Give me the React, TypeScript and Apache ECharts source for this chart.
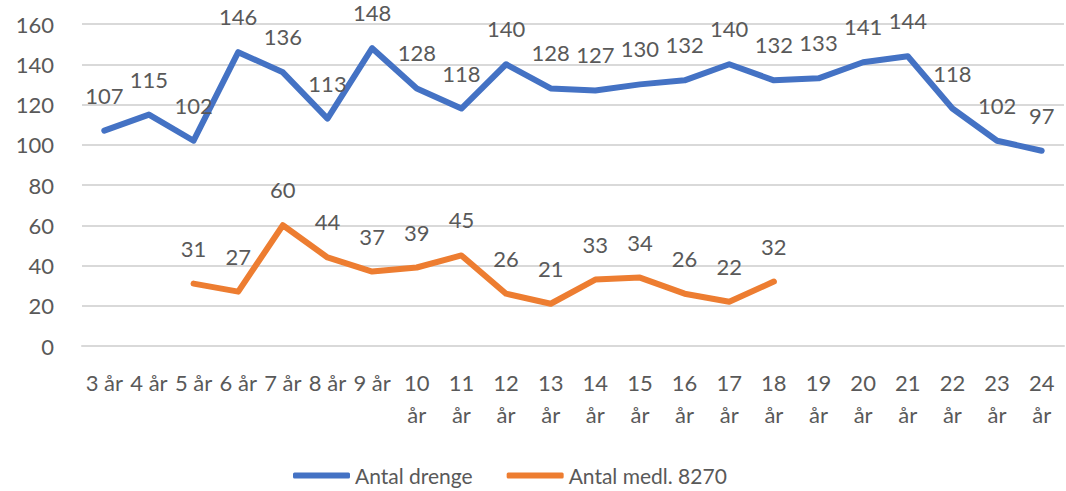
import React, { useEffect, useRef } from "react";
import * as echarts from "echarts";

const categories = [
  "3 år", "4 år", "5 år", "6 år", "7 år", "8 år", "9 år", "10 år", "11 år", "12 år", "13 år",
  "14 år", "15 år", "16 år", "17 år", "18 år", "19 år", "20 år", "21 år", "22 år", "23 år", "24 år",
];
const antalDrenge = [107, 115, 102, 146, 136, 113, 148, 128, 118, 140, 128, 127, 130, 132, 140, 132, 133, 141, 144, 118, 102, 97];
const antalMedl = [null, null, 31, 27, 60, 44, 37, 39, 45, 26, 21, 33, 34, 26, 22, 32, null, null, null, null, null, null];
const seriesNames = ["Antal drenge", "Antal medl. 8270"];

const FONT = "Lato";
const TEXT = "#595959";

export default function App() {
  const ref = useRef<HTMLDivElement>(null);
  useEffect(() => {
    if (!ref.current) return;
    const chart = echarts.init(ref.current, undefined, { renderer: "svg" });
    const label = {
      show: true,
      position: "top",
      distance: 24,
      color: TEXT,
      fontFamily: FONT,
      fontSize: 22,
    };
    chart.setOption({
      animation: false,
      textStyle: { fontFamily: FONT },
      grid: { left: 82, right: 2, top: 24, bottom: 145 },
      legend: {
        bottom: 0,
        left: 288,
        itemWidth: 57,
        itemHeight: 6,
        itemGap: 34,
        icon: "roundRect",
        textStyle: { color: TEXT, fontFamily: FONT, fontSize: 21 },
        data: seriesNames,
      },
      xAxis: {
        type: "category",
        data: categories,
        boundaryGap: true,
        axisLine: { show: true, lineStyle: { color: "#d9d9d9", width: 2 } },
        axisTick: { show: false },
        axisLabel: {
          interval: 0,
          color: TEXT,
          fontFamily: FONT,
          fontSize: 22,
          lineHeight: 32,
          margin: 20,
          formatter: (v: string) => (parseInt(v, 10) >= 10 ? v.replace(" ", "\n") : v),
        },
      },
      yAxis: {
        type: "value",
        min: 0,
        max: 160,
        interval: 20,
        axisLine: { show: false },
        axisTick: { show: false },
        splitLine: { lineStyle: { color: "#d9d9d9", width: 2 } },
        axisLabel: { color: TEXT, fontFamily: FONT, fontSize: 22, margin: 28 },
      },
      series: [
        {
          name: seriesNames[0],
          type: "line",
          data: antalDrenge,
          symbol: "circle",
          symbolSize: 1,
          showSymbol: true,
          lineStyle: { color: "#4472C4", width: 6, cap: "round", join: "round" },
          itemStyle: { color: "#4472C4" },
          label,
        },
        {
          name: seriesNames[1],
          type: "line",
          data: antalMedl,
          symbol: "circle",
          symbolSize: 1,
          showSymbol: true,
          connectNulls: false,
          lineStyle: { color: "#ED7D31", width: 6, cap: "round", join: "round" },
          itemStyle: { color: "#ED7D31" },
          label,
        },
      ],
    });
    return () => chart.dispose();
  }, []);
  return <div ref={ref} style={{ width: 1066, height: 491, position: "absolute", left: 0, top: 0 }} />;
}
